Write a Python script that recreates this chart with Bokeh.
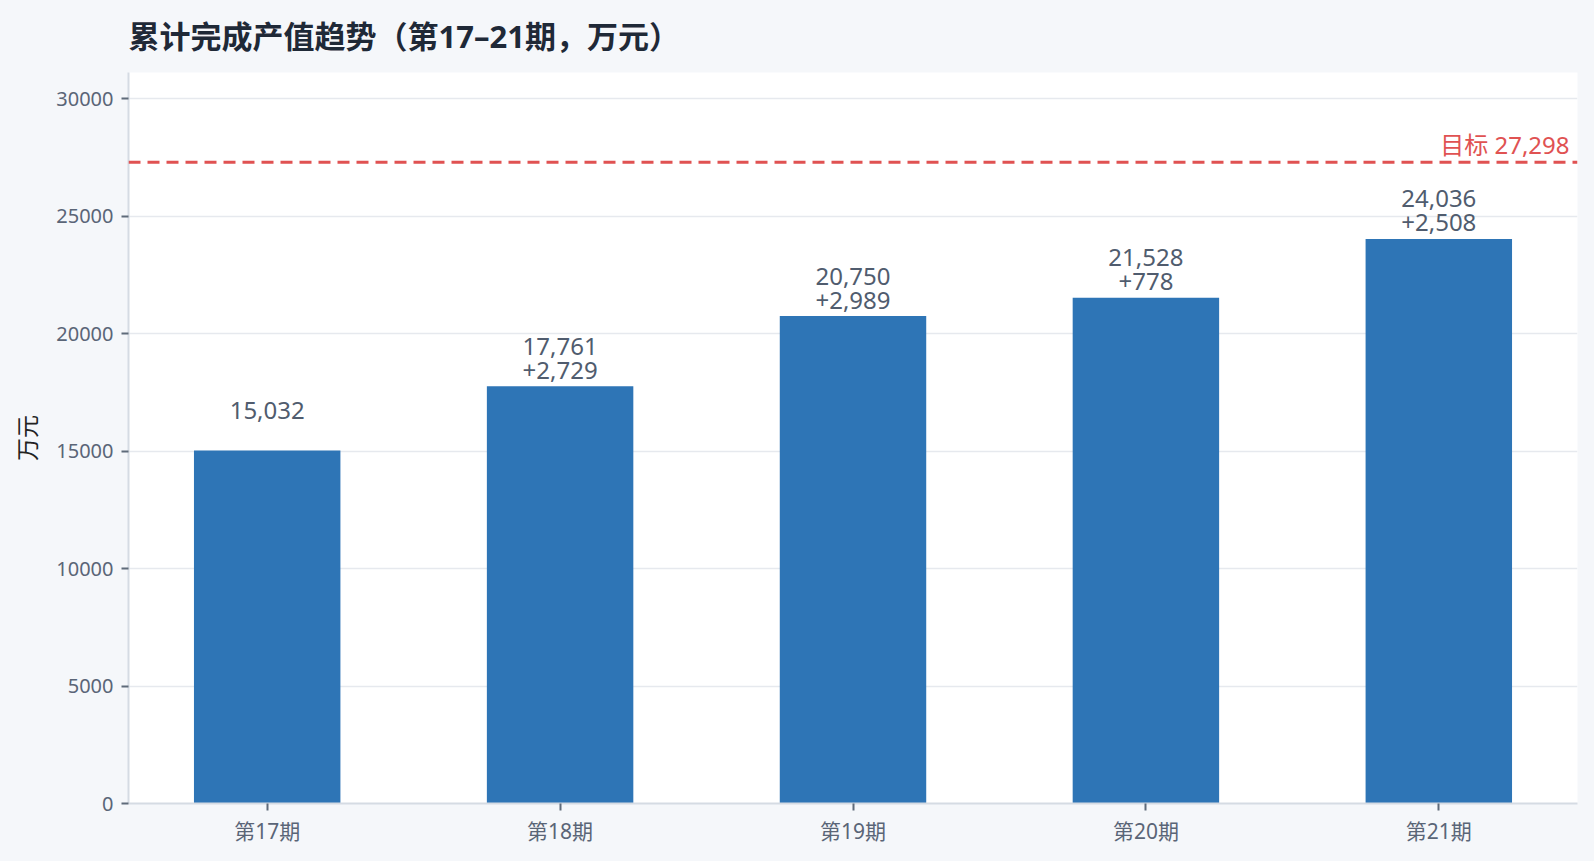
import re
from bokeh.plotting import figure
from bokeh.models import ColumnDataSource, FixedTicker, Span, Label, NumeralTickFormatter, FactorRange
from bokeh.embed import file_html
from bokeh.resources import INLINE
from bokeh.core.properties import value

title_text = "累计完成产值趋势（第17–21期，万元）"
periods = ["第17期", "第18期", "第19期", "第20期", "第21期"]
cumulative = [15032, 17761, 20750, 21528, 24036]
increments = [None, 2729, 2989, 778, 2508]
target = 27298
y_ticks = [0, 5000, 10000, 15000, 20000, 25000, 30000]

FONT = "Noto Sans, Noto Sans CJK SC"

line1 = [f"{v:,}" for v in cumulative]
line2 = ["" if d is None else f"+{d:,}" for d in increments]

src = ColumnDataSource(dict(x=periods, top=cumulative, l1=line1, l2=line2))

W, H = 1578, 853
LEFT, RIGHT, TOP, BOTTOM = 128, 1, 70, 50
xr = FactorRange(factors=periods, range_padding=-0.0106, range_padding_units="percent")
p = figure(x_range=xr, y_range=(0, 31120), width=W, height=H,
           output_backend="svg", toolbar_location=None, title=title_text)
p.min_border_left = LEFT
p.min_border_right = RIGHT
p.min_border_bottom = BOTTOM
p.min_border_top = TOP
p.background_fill_color = "#ffffff"
p.border_fill_color = "#f5f7fa"
p.outline_line_color = None

p.title.text_font = FONT
p.title.text_font_size = "31px"
p.title.text_font_style = "bold"
p.title.text_color = "#1f2937"
p.title.offset = 0
p.title.standoff = 28
p.title.vertical_align = "top"

p.vbar(x="x", top="top", width=0.5, source=src, color="#2e75b6", line_color=None)

p.text(x="x", y="top", text="l1", source=src, y_offset=-40, text_align="center",
       text_baseline="middle", text_font=value(FONT), text_font_size="24px",
       text_color="#505c6e")
p.text(x="x", y="top", text="l2", source=src, y_offset=-16, text_align="center",
       text_baseline="middle", text_font=value(FONT), text_font_size="24px",
       text_color="#505c6e")

p.add_layout(Span(location=target, dimension="width", line_color="#e05252",
                  line_width=3, line_dash="12 7"))
p.add_layout(Label(x=W - LEFT - RIGHT - 8, y=target, x_units="screen", y_units="data",
                   text=f"目标 {target:,}", text_align="right", text_baseline="bottom",
                   y_offset=1, text_font=FONT, text_font_size="24px", text_color="#e05252"))

p.yaxis.ticker = FixedTicker(ticks=y_ticks)
p.yaxis.formatter = NumeralTickFormatter(format="0")
p.yaxis.axis_label = "万元"
p.yaxis.axis_label_text_font = FONT
p.yaxis.axis_label_text_font_size = "23px"
p.yaxis.axis_label_text_font_style = "normal"
p.yaxis.axis_label_text_color = "#222222"
p.yaxis.axis_label_standoff = 10

for ax in (p.xaxis, p.yaxis):
    ax.axis_line_color = "#d5dbe3"
    ax.axis_line_width = 2
    ax.major_tick_line_color = "#5f6b7a"
    ax.major_tick_line_width = 2
    ax.major_tick_out = 7
    ax.major_tick_in = 0
    ax.minor_tick_line_color = None
    ax.major_label_text_font = FONT
    ax.major_label_text_color = "#5a6577"
p.yaxis.major_label_text_font_size = "20px"
p.xaxis.major_label_text_font_size = "21px"
p.xaxis.major_label_standoff = 6
p.yaxis.major_label_standoff = 8

p.xgrid.grid_line_color = None
p.ygrid.grid_line_color = "#e6e9ee"
p.ygrid.grid_line_width = 1.5

html = file_html(p, INLINE)
html = re.sub(r"<html([^>]*)>", r'<html\1 style="background:#f5f7fa">', html, count=1)
html = html.replace("<body>", '<body style="background:#f5f7fa">', 1)
open("out.html", "w").write(html)
